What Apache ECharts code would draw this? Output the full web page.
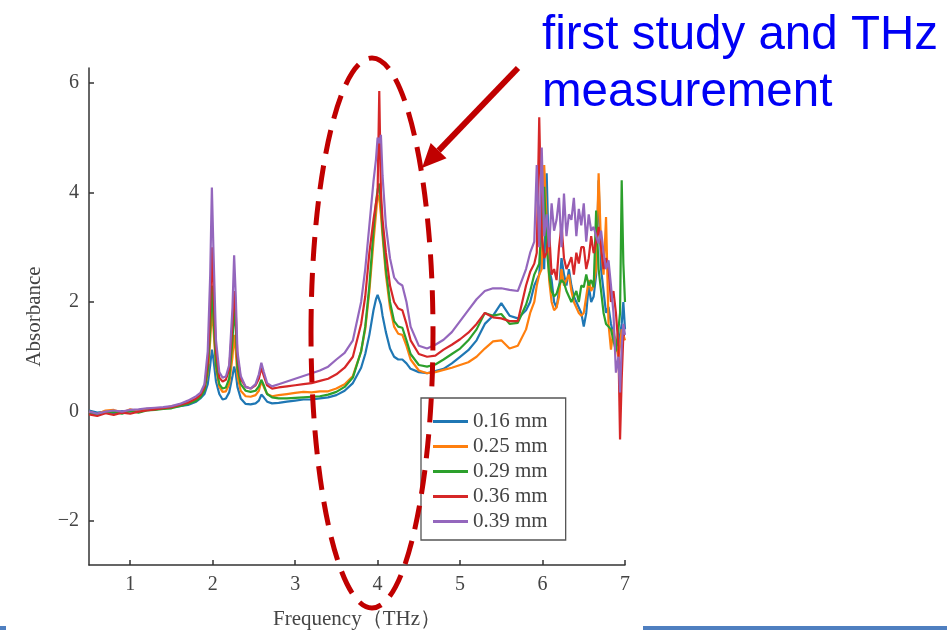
<!DOCTYPE html>
<html>
<head>
<meta charset="utf-8">
<script src="https://cdn.jsdelivr.net/npm/echarts@6/dist/echarts.min.js"></script>
<style>html,body{margin:0;padding:0;background:#fff}#c{width:947px;height:635px}</style>
</head>
<body>
<div id="c"></div>
<script>
// Frequency (THz), shared by all series
const freq = [
  0.5,0.6,0.7,0.8,0.9,1.0,1.1,1.2,1.3,1.4,1.5,1.6,1.7,1.8,
  1.85,1.9,1.94,1.97,1.99,2.01,2.04,2.08,2.12,2.16,
  2.2,2.24,2.26,2.28,2.3,2.34,2.4,2.46,2.52,2.56,
  2.59,2.62,2.66,2.72,2.8,2.9,3.0,3.1,3.2,3.3,
  3.4,3.5,3.6,3.7,3.8,3.85,3.9,3.95,3.98,4.0,
  4.02,4.04,4.06,4.1,4.15,4.2,4.25,4.3,4.35,4.4,
  4.5,4.6,4.7,4.8,4.9,5.0,5.1,5.2,5.3,5.4,
  5.5,5.6,5.7,5.8,5.85,5.9,5.93,5.96,5.99,6.02,
  6.05,6.08,6.11,6.14,6.17,6.2,6.23,6.26,6.29,6.32,
  6.35,6.38,6.41,6.44,6.47,6.5,6.53,6.56,6.59,6.62,
  6.65,6.68,6.71,6.74,6.77,6.8,6.83,6.86,6.89,6.92,
  6.94,6.96,6.98,7.0
];
const a016 = [
  0.02,-0.02,0.0,-0.03,0.01,0.0,0.02,0.03,0.05,0.06,0.08,0.1,0.12,0.18,
  0.24,0.32,0.5,0.85,1.13,0.95,0.55,0.32,0.22,0.24,
  0.35,0.65,0.82,0.7,0.45,0.24,0.14,0.13,0.15,0.2,
  0.31,0.26,0.18,0.15,0.16,0.18,0.2,0.22,0.22,0.24,
  0.26,0.3,0.38,0.52,0.8,1.05,1.4,1.85,2.05,2.13,
  2.1,1.95,1.75,1.45,1.15,1.0,0.95,0.95,0.88,0.78,
  0.72,0.7,0.74,0.78,0.88,1.0,1.12,1.3,1.6,1.75,
  1.98,1.75,1.7,1.85,2.0,2.3,2.4,2.5,3.2,2.6,
  4.35,2.6,2.4,2.0,1.9,2.2,2.8,2.5,2.3,2.6,
  2.3,2.1,2.0,1.9,1.8,1.55,1.8,2.3,2.0,2.1,
  2.5,4.22,2.6,2.2,1.8,1.91,1.6,1.4,1.3,1.2,
  1.4,1.6,2.0,1.5
];
const a025 = [
  0.0,-0.05,0.02,0.03,-0.02,0.04,0.0,0.05,0.06,0.05,0.1,0.12,0.16,0.22,
  0.28,0.4,0.7,1.3,1.9,1.5,0.8,0.45,0.36,0.37,
  0.5,1.0,1.4,1.1,0.65,0.38,0.28,0.27,0.3,0.38,
  0.55,0.45,0.32,0.28,0.3,0.32,0.34,0.36,0.35,0.37,
  0.37,0.42,0.5,0.65,1.1,1.5,2.2,3.1,3.6,3.95,
  3.9,3.6,3.2,2.5,1.9,1.55,1.42,1.4,1.2,0.95,
  0.75,0.7,0.72,0.76,0.8,0.85,0.9,1.0,1.15,1.28,
  1.3,1.15,1.2,1.5,1.8,2.0,2.3,2.5,2.6,4.5,
  3.5,2.4,2.0,1.85,1.9,2.1,2.6,2.3,2.4,2.5,
  2.2,2.0,1.9,1.8,1.75,1.8,2.1,2.4,2.2,2.3,
  2.6,4.35,3.0,2.5,3.55,1.6,1.13,1.5,1.2,1.0,
  1.2,1.5,1.4,1.3
];
const a029 = [
  -0.03,-0.06,-0.02,0.0,-0.04,0.01,-0.02,0.02,0.03,0.05,0.06,0.1,0.14,0.2,
  0.26,0.38,0.75,1.5,2.3,1.7,0.85,0.5,0.42,0.44,
  0.6,1.3,1.9,1.5,0.8,0.5,0.38,0.36,0.38,0.46,
  0.58,0.48,0.32,0.26,0.24,0.24,0.25,0.26,0.27,0.28,
  0.31,0.36,0.45,0.62,1.1,1.55,2.3,3.3,3.8,4.05,
  4.16,3.8,3.3,2.6,2.0,1.65,1.55,1.53,1.3,1.05,
  0.85,0.82,0.86,0.95,1.05,1.15,1.3,1.5,1.8,1.75,
  1.78,1.6,1.62,1.95,2.2,2.5,2.6,2.7,3.5,4.1,
  3.0,2.5,2.2,2.1,2.15,2.3,2.4,2.35,2.2,2.1,
  2.0,2.1,2.2,2.0,2.3,2.27,2.5,2.3,2.4,2.27,
  3.67,2.6,2.2,1.8,1.6,1.55,1.5,1.3,1.1,1.5,
  1.8,4.22,2.7,2.0
];
const a036 = [
  -0.05,-0.08,-0.03,-0.06,-0.02,-0.04,0.0,0.02,0.04,0.06,0.08,0.12,0.16,0.24,
  0.3,0.45,0.9,1.9,3.0,2.2,1.1,0.62,0.55,0.58,
  0.78,1.6,2.2,1.8,1.0,0.6,0.45,0.42,0.48,0.6,
  0.8,0.65,0.48,0.42,0.44,0.46,0.48,0.5,0.52,0.56,
  0.6,0.68,0.8,1.0,1.6,2.1,2.9,3.5,3.8,4.0,
  5.85,4.0,3.5,2.9,2.3,2.0,1.88,1.85,1.6,1.3,
  1.05,1.0,1.02,1.13,1.22,1.32,1.44,1.6,1.8,1.72,
  1.7,1.65,1.65,2.3,2.55,2.7,2.9,5.37,3.2,2.8,
  2.9,3.3,2.5,2.6,2.4,3.0,3.4,2.8,2.6,2.7,
  2.82,2.5,2.9,2.7,3.0,3.0,2.6,2.8,3.2,2.89,
  3.1,3.37,3.0,2.6,2.8,2.64,2.0,2.2,1.8,1.2,
  -0.51,0.6,1.4,1.4
];
const a039 = [
  0.0,-0.04,0.0,0.02,0.0,0.03,0.04,0.06,0.07,0.08,0.1,0.14,0.2,0.28,
  0.34,0.5,1.1,2.5,4.09,2.9,1.3,0.72,0.62,0.64,
  0.85,1.9,2.85,2.1,1.1,0.65,0.45,0.42,0.5,0.68,
  0.89,0.72,0.52,0.46,0.5,0.55,0.6,0.65,0.7,0.75,
  0.82,0.95,1.07,1.3,2.0,2.6,3.4,4.2,4.6,5.0,
  4.9,5.05,4.3,3.4,2.8,2.45,2.35,2.3,2.0,1.55,
  1.2,1.15,1.22,1.31,1.45,1.65,1.85,2.05,2.2,2.25,
  2.25,2.22,2.2,2.6,2.9,3.1,4.5,3.0,4.82,3.2,
  3.6,3.0,3.8,3.3,3.5,3.9,3.0,3.98,3.2,3.6,
  3.5,3.9,3.2,3.7,3.4,3.8,3.1,3.6,3.3,3.37,
  3.2,3.07,3.3,2.9,2.6,2.76,2.3,1.8,0.71,1.0,
  0.35,1.2,1.6,1.4
];
const seriesNames = ['0.16 mm','0.25 mm','0.29 mm','0.36 mm','0.39 mm'];
const seriesValues = [a016, a025, a029, a036, a039];
const colors = ['#1f77b4','#ff7f0e','#2ca02c','#d62728','#9467bd'];
const xTicks = [1,2,3,4,5,6,7];
const yTicks = [-2,0,2,4,6];

const serif = "'Liberation Serif','Times New Roman',serif";
const chart = echarts.init(document.getElementById('c'), null, {renderer:'canvas'});

const series = seriesNames.map((n, k) => ({
  name: n, type: 'line', symbol: 'none', showSymbol: false,
  data: freq.map((f, i) => [f, seriesValues[k][i]]),
  lineStyle: {width: 2.2, color: colors[k]},
  itemStyle: {color: colors[k]},
  z: 2 + k
}));

// arrow geometry
const tail = [518, 68], tip = [422, 168];
const dx = tip[0]-tail[0], dy = tip[1]-tail[1], L = Math.hypot(dx, dy);
const ux = dx/L, uy = dy/L, nx = -uy, ny = ux;
const hl = 24, hw = 11;
const bx = tip[0]-hl*ux, by = tip[1]-hl*uy;

chart.setOption({
  animation: false,
  backgroundColor: '#fff',
  color: colors,
  grid: {left: 89, right: 322, top: 68, bottom: 69, containLabel: false},
  xAxis: {
    type: 'value', min: 0.5, max: 7,
    name: 'Frequency（THz）', nameLocation: 'middle', nameGap: 44,
    nameTextStyle: {fontFamily: serif, fontSize: 21, color: '#444'},
    axisLine: {show: true, onZero: false, lineStyle: {color: '#333', width: 1.5}},
    axisTick: {show: true, inside: true, length: 5, customValues: xTicks, lineStyle: {color: '#333', width: 1.5}},
    axisLabel: {customValues: xTicks, fontFamily: serif, fontSize: 20, color: '#444', margin: 10},
    splitLine: {show: false}
  },
  yAxis: {
    type: 'value', min: -2.8, max: 6.27,
    name: 'Absorbance', nameLocation: 'middle', nameGap: 44, nameRotate: 90,
    nameTextStyle: {fontFamily: serif, fontSize: 21, color: '#444'},
    axisLine: {show: true, onZero: false, lineStyle: {color: '#333', width: 1.5}},
    axisTick: {show: true, inside: true, length: 5, customValues: yTicks, lineStyle: {color: '#333', width: 1.5}},
    axisLabel: {customValues: yTicks, fontFamily: serif, fontSize: 20, color: '#444', margin: 10,
      formatter: v => v < 0 ? '\u2212' + Math.abs(v) : String(v)},
    splitLine: {show: false}
  },
  legend: {
    orient: 'vertical', left: 421, top: 398,
    icon: 'rect', itemWidth: 35, itemHeight: 3, itemGap: 4,
    padding: [13, 18, 8, 12],
    borderColor: '#555', borderWidth: 1.3, backgroundColor: '#fff',
    textStyle: {fontFamily: serif, fontSize: 21, lineHeight: 21, color: '#444'},
    data: seriesNames
  },
  series: series,
  graphic: [
    {type: 'text', left: 542, top: 7, z: 100,
     style: {text: 'first study and THz\nmeasurement', fill: '#0000f5',
       font: "47.5px 'Liberation Sans', Arial, sans-serif", lineHeight: 57}},
    {type: 'ellipse', z: 100, silent: true,
     shape: {cx: 372, cy: 333, rx: 61, ry: 275},
     style: {fill: 'none', stroke: '#c00000', lineWidth: 5, lineDash: [24, 12]}},
    {type: 'line', z: 100, shape: {x1: tail[0], y1: tail[1], x2: bx, y2: by},
     style: {stroke: '#c00000', lineWidth: 6}},
    {type: 'polygon', z: 100,
     shape: {points: [tip, [bx + hw*nx, by + hw*ny], [bx - hw*nx, by - hw*ny]]},
     style: {fill: '#c00000'}},
    {type: 'rect', z: 100, shape: {x: 0, y: 626, width: 6, height: 4}, style: {fill: '#4f7fc0'}},
    {type: 'rect', z: 100, shape: {x: 643, y: 626, width: 304, height: 4}, style: {fill: '#4f7fc0'}}
  ]
});
</script>
</body>
</html>
